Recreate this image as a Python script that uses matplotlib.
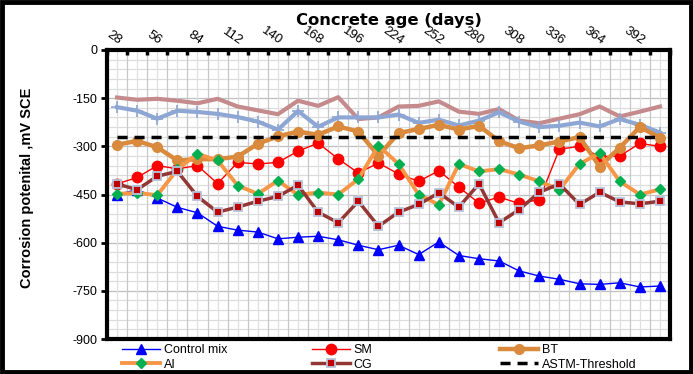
import matplotlib
matplotlib.use("Agg")
import matplotlib.pyplot as plt
from matplotlib.ticker import FixedLocator
from matplotlib.patches import Rectangle
import numpy as np

plt.rcParams['font.family'] = ['Liberation Sans', 'DejaVu Sans']

days = [28 + 14 * i for i in range(28)]
tick_labels = [str(d) for d in days[::2]]

control_mix = [-450, -435, -461, -490, -507, -549, -561, -567, -588, -583, -580, -591, -608, -622,
               -608, -637, -598, -640, -650, -657, -688, -704, -714, -728, -730, -725, -738, -735]
sm = [-417, -397, -360, -370, -360, -416, -350, -355, -350, -315, -290, -339, -383, -352,
      -386, -409, -376, -427, -477, -458, -478, -466, -309, -300, -332, -330, -291, -300]
bt = [-295, -283, -303, -344, -340, -340, -332, -292, -269, -254, -264, -238, -254, -329,
      -259, -246, -233, -248, -236, -284, -306, -297, -285, -271, -363, -304, -240, -273]
ai = [-448, -445, -452, -372, -323, -344, -422, -448, -407, -451, -444, -450, -402, -298,
      -355, -450, -482, -355, -378, -371, -388, -409, -435, -355, -321, -409, -450, -434]
cg = [-417, -435, -393, -378, -456, -505, -489, -471, -456, -421, -505, -538, -471, -549,
      -505, -481, -445, -489, -417, -538, -497, -443, -417, -481, -443, -473, -479, -471]
astm_threshold = [-270] * 28
series_pink = [-148, -155, -152, -158, -166, -152, -176, -188, -200, -158, -174, -147, -215, -210,
               -176, -174, -160, -192, -199, -184, -220, -228, -214, -200, -176, -207, -192, -176]
series_steel = [-178, -189, -214, -189, -193, -199, -209, -223, -248, -190, -239, -210, -210, -210,
                -201, -227, -217, -235, -220, -194, -223, -240, -236, -226, -238, -215, -233, -257]

x = np.arange(len(days))

fig = plt.figure(figsize=(6.93, 3.74), dpi=100)
ax = fig.add_axes([107/693, 1 - 339/374, (670 - 107)/693, (339 - 50)/374])

ax.set_ylim(-900, 0)
ax.set_xlim(-0.5, len(days) - 0.5)
ax.xaxis.set_major_locator(FixedLocator(x[::2]))
ax.xaxis.set_minor_locator(FixedLocator(np.arange(-0.5, len(days), 1.0)))
for v in np.arange(-900, 1, 30):
    ax.axhline(v, color='#BFBFBF' if v % 150 == 0 else '#DDDDDD', lw=0.9, zorder=0)
for v in np.arange(-0.5, len(days), 0.5):
    ax.axvline(v, color='#C8C8C8' if (v + 0.5) % 1 == 0 else '#E0E0E0', lw=0.9, zorder=0)

ax.plot(x, series_pink, color='#C48A8C', lw=3, zorder=2)
ax.plot(x, series_steel, color='#8DA6D3', lw=3, marker='+', ms=8, mew=1.2, zorder=2)
l_cm, = ax.plot(x, control_mix, color='#0000FF', lw=1, marker='^', ms=7, zorder=3, label='Control mix')
l_sm, = ax.plot(x, sm, color='#FF0000', lw=1, marker='o', ms=7.5, zorder=3, label='SM')
l_bt, = ax.plot(x, bt, color='#D98A3C', lw=3.2, marker='o', ms=7, zorder=3, label='BT')
l_ai, = ax.plot(x, ai, color='#F79646', lw=2.8, marker='D', ms=5.5, mfc='#00B050', mec='#00B050', zorder=4, label='AI')
l_cg, = ax.plot(x, cg, color='#943634', lw=2.5, marker='s', ms=6, mfc='#C00000', mec='#B8C3DA', mew=1.3, zorder=5, label='CG')
l_astm, = ax.plot(x, astm_threshold, color='black', lw=2.5, ls=(0, (2.9, 2.0)), zorder=6, label='ASTM-Threshold')

for s in ax.spines.values():
    s.set_linewidth(3)
    s.set_color('black')
ax.xaxis.tick_top()
ax.xaxis.set_label_position('top')
ax.set_xticklabels(tick_labels)
ax.tick_params(axis='x', which='major', length=0, labelsize=9.5, pad=2)
ax.tick_params(axis='x', which='minor', length=3.5, width=2.5, direction='in', top=True, bottom=False)
for lab in ax.get_xticklabels():
    lab.set_rotation(-35)
    lab.set_ha('right')
    lab.set_va('bottom')
    lab.set_rotation_mode('anchor')
ax.set_yticks(np.arange(-900, 1, 150))
ax.set_yticklabels([str(v) for v in np.arange(-900, 1, 150)])
ax.tick_params(axis='y', which='major', length=4, width=2, direction='out', labelsize=9, pad=3)
ax.tick_params(axis='y', which='minor', length=0)

ax.set_xlabel('Concrete age (days)', fontsize=11.8, fontweight='bold', family='DejaVu Sans')
ax.xaxis.set_label_coords(0.5, 1.0 + 25/289)
ax.set_ylabel('Corrosion potenital ,mV SCE', fontsize=10.5, fontweight='bold')
ax.yaxis.set_label_coords(-73/563, 0.524)

cols = [([l_cm, l_ai], 122), ([l_sm, l_cg], 312), ([l_bt, l_astm], 500)]
for hs, xpx in cols:
    fig.legend(handles=hs, labels=[h.get_label() for h in hs], ncol=1,
               loc='upper left', bbox_to_anchor=(xpx/693, 1 - 344/374), frameon=False,
               fontsize=9, handlelength=3.0, labelspacing=0.2,
               handletextpad=0.35, borderpad=0, borderaxespad=0)

fig.patches.append(Rectangle((1.5/693, 2.5/374), 689/693, 369.5/374, transform=fig.transFigure,
                             fill=False, edgecolor='black', lw=3.5, zorder=10))

fig.savefig('out.png', dpi=100)
